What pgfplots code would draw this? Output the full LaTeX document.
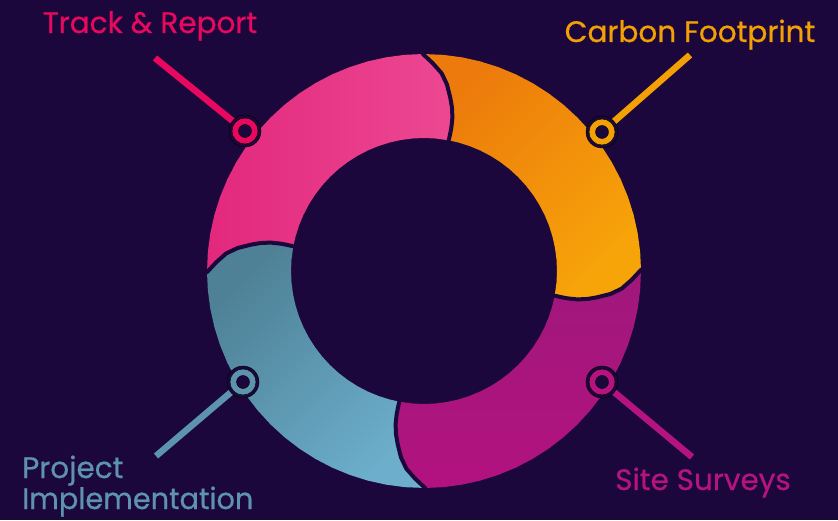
\documentclass[border=0pt]{standalone}
\usepackage{pgfplots}
\pgfplotsset{compat=1.18}
\usepackage{fontspec}
\setmainfont{Poppins}
\newfontfamily\lblfont{Poppins}[FakeBold=0.6]
\definecolor{bg}{HTML}{1B073B}
\definecolor{pinkT}{HTML}{E8085F}
\definecolor{orangeT}{HTML}{F2A004}
\definecolor{magT}{HTML}{B5137F}
\definecolor{blueT}{HTML}{5D93AF}
\definecolor{pinkA}{HTML}{E2287D}
\definecolor{pinkB}{HTML}{ED4892}
\definecolor{orA}{HTML}{EC7A0C}
\definecolor{orB}{HTML}{F7A409}
\definecolor{magA}{HTML}{A0187B}
\definecolor{magB}{HTML}{B2127F}
\definecolor{blA}{HTML}{4E8196}
\definecolor{blB}{HTML}{6CAECB}
\newcommand{\lbl}{\lblfont\fontsize{29.5}{33}\selectfont}
\begin{document}
\begin{tikzpicture}
\begin{axis}[width=838pt, height=520pt, scale only axis,
  xmin=-424, xmax=414, ymin=-249, ymax=271, hide axis]
% background
\addplot[fill=bg, draw=none] coordinates {(-424,-249) (414,-249) (414,271) (-424,271)} -- cycle;
% pink segment (Track & Report)
\addplot[draw=none, left color=pinkA, right color=pinkB, data cs=polar] coordinates {
(180.3,217)(175,217)(170,217)(165,217)(160,217)(155,217)(150,217)(145,217)(140,217)(135,217)(130,217)(125,217)(120,217)(115,217)(110,217)(105,217)(100,217)(95,217)
(90.3,217)(87.6,208)(84.9,198.5)(83,188)(81.4,175.5)(80.3,166)(79.5,156)(79.2,146)(79.2,139)(79.3,133)
(85,133)(90,133)(95,133)(100,133)(105,133)(110,133)(115,133)(120,133)(125,133)(130,133)(135,133)(140,133)(145,133)(150,133)(155,133)(160,133)(165,133)
(169.3,133)(169.2,139)(169.2,146)(169.5,156)(170.3,166)(171.4,175.5)(173,188)(174.9,198.5)(177.6,208)} -- cycle;
% orange segment (Carbon Footprint)
\addplot[draw=none, top color=orA, bottom color=orB, shading angle=45, data cs=polar] coordinates {
(90.3,217)(85,217)(80,217)(75,217)(70,217)(65,217)(60,217)(55,217)(50,217)(45,217)(40,217)(35,217)(30,217)(25,217)(20,217)(15,217)(10,217)(5,217)
(0.3,217)(-2.4,208)(-5.1,198.5)(-7,188)(-8.6,175.5)(-9.7,166)(-10.5,156)(-10.8,146)(-10.8,139)(-10.7,133)
(-5,133)(0,133)(5,133)(10,133)(15,133)(20,133)(25,133)(30,133)(35,133)(40,133)(45,133)(50,133)(55,133)(60,133)(65,133)(70,133)(75,133)
(79.3,133)(79.2,139)(79.2,146)(79.5,156)(80.3,166)(81.4,175.5)(83,188)(84.9,198.5)(87.6,208)} -- cycle;
% magenta segment (Site Surveys)
\addplot[draw=none, top color=magA, bottom color=magB, data cs=polar] coordinates {
(0.3,217)(-5,217)(-10,217)(-15,217)(-20,217)(-25,217)(-30,217)(-35,217)(-40,217)(-45,217)(-50,217)(-55,217)(-60,217)(-65,217)(-70,217)(-75,217)(-80,217)(-85,217)
(-89.7,217)(-92.4,208)(-95.1,198.5)(-97,188)(-98.6,175.5)(-99.7,166)(-100.5,156)(-100.8,146)(-100.8,139)(-100.7,133)
(-95,133)(-90,133)(-85,133)(-80,133)(-75,133)(-70,133)(-65,133)(-60,133)(-55,133)(-50,133)(-45,133)(-40,133)(-35,133)(-30,133)(-25,133)(-20,133)(-15,133)
(-10.7,133)(-10.8,139)(-10.8,146)(-10.5,156)(-9.7,166)(-8.6,175.5)(-7,188)(-5.1,198.5)(-2.4,208)} -- cycle;
% blue segment (Project Implementation)
\addplot[draw=none, top color=blA, bottom color=blB, shading angle=45, data cs=polar] coordinates {
(-89.7,217)(-95,217)(-100,217)(-105,217)(-110,217)(-115,217)(-120,217)(-125,217)(-130,217)(-135,217)(-140,217)(-145,217)(-150,217)(-155,217)(-160,217)(-165,217)(-170,217)(-175,217)
(-179.7,217)(-182.4,208)(-185.1,198.5)(-187,188)(-188.6,175.5)(-189.7,166)(-190.5,156)(-190.8,146)(-190.8,139)(-190.7,133)
(-185,133)(-180,133)(-175,133)(-170,133)(-165,133)(-160,133)(-155,133)(-150,133)(-145,133)(-140,133)(-135,133)(-130,133)(-125,133)(-120,133)(-115,133)(-110,133)(-105,133)
(-100.7,133)(-100.8,139)(-100.8,146)(-100.5,156)(-99.7,166)(-98.6,175.5)(-97,188)(-95.1,198.5)(-92.4,208)} -- cycle;
% dark joins
\addplot[draw=bg, line width=4pt, data cs=polar] coordinates {(90.5,221)(90.3,217)(87.6,208)(84.9,198.5)(83,188)(81.4,175.5)(80.3,166)(79.5,156)(79.2,146)(79.2,139)(79.3,133)(79.3,129)};
\addplot[draw=bg, line width=4pt, data cs=polar] coordinates {(0.5,221)(0.3,217)(-2.4,208)(-5.1,198.5)(-7,188)(-8.6,175.5)(-9.7,166)(-10.5,156)(-10.8,146)(-10.8,139)(-10.7,133)(-10.7,129)};
\addplot[draw=bg, line width=4pt, data cs=polar] coordinates {(-89.5,221)(-89.7,217)(-92.4,208)(-95.1,198.5)(-97,188)(-98.6,175.5)(-99.7,166)(-100.5,156)(-100.8,146)(-100.8,139)(-100.7,133)(-100.7,129)};
\addplot[draw=bg, line width=4pt, data cs=polar] coordinates {(-179.5,221)(-179.7,217)(-182.4,208)(-185.1,198.5)(-187,188)(-188.6,175.5)(-189.7,166)(-190.5,156)(-190.8,146)(-190.8,139)(-190.7,133)(-190.7,129)};
% leader lines
\addplot[draw=pinkT, line width=6.5pt] coordinates {(-269,213) (-179,140)};
\addplot[draw=orangeT, line width=6.5pt] coordinates {(266,216) (178,139)};
\addplot[draw=blueT, line width=6.5pt] coordinates {(-268,-185) (-181,-111)};
\addplot[draw=magT, line width=6.5pt] coordinates {(268,-186) (178,-111)};
% markers
\addplot[only marks, mark=*, mark size=16pt, mark options={fill=bg, draw=none}] coordinates {(-179,140) (178,139) (-181,-111) (178,-111)};
\addplot[only marks, mark=*, mark size=13pt, mark options={fill=pinkT, draw=none}] coordinates {(-179,140)};
\addplot[only marks, mark=*, mark size=13pt, mark options={fill=orangeT, draw=none}] coordinates {(178,139)};
\addplot[only marks, mark=*, mark size=13pt, mark options={fill=blueT, draw=none}] coordinates {(-181,-111)};
\addplot[only marks, mark=*, mark size=13pt, mark options={fill=magT, draw=none}] coordinates {(178,-111)};
\addplot[only marks, mark=*, mark size=6.5pt, mark options={fill=bg, draw=none}] coordinates {(-179,140) (178,139) (-181,-111) (178,-111)};
% labels
\node[anchor=base, text=pinkT, font=\lbl] at (axis cs:-274,238) {Track \& Report};
\node[anchor=base, text=orangeT, font=\lbl] at (axis cs:266,229) {Carbon Footprint};
\node[anchor=base west, text=blueT, font=\lbl, inner sep=0pt] at (axis cs:-402,-207) {Project};
\node[anchor=base west, text=blueT, font=\lbl, inner sep=0pt, xscale=0.975] at (axis cs:-402,-238) {Implementation};
\node[anchor=base, text=magT, font=\lbl] at (axis cs:279,-219) {Site Surveys};
\end{axis}
\end{tikzpicture}
\end{document}
